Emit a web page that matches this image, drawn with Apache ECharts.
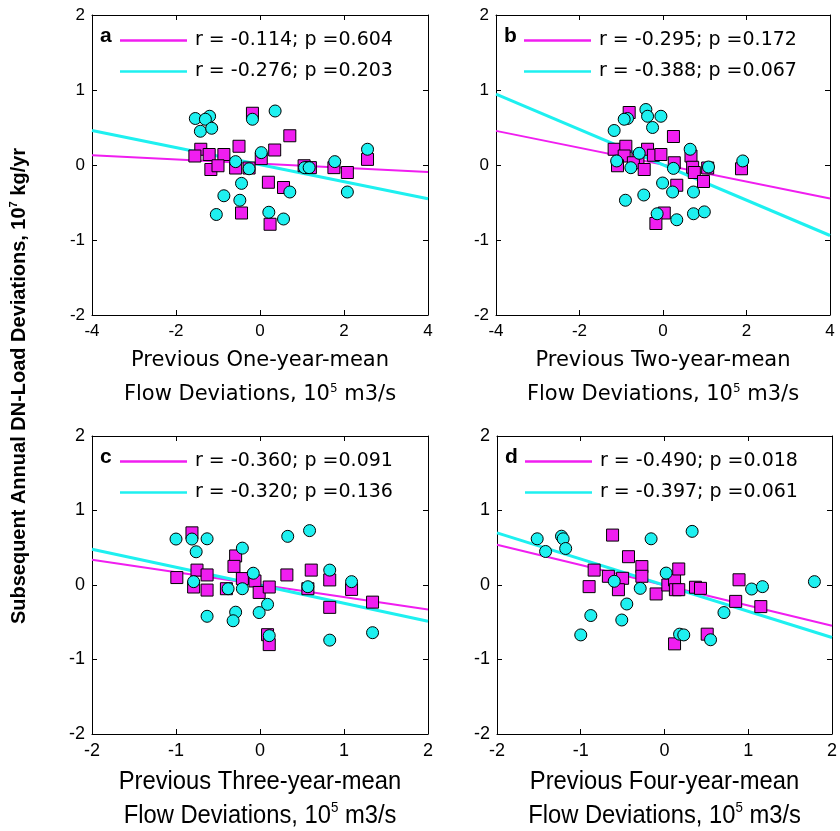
<!DOCTYPE html>
<html lang="en">
<head>
    <meta charset="UTF-8">
    <title>DN-load vs flow deviations</title>
    <script src="https://cdn.jsdelivr.net/npm/echarts@6/dist/echarts.min.js"></script>
    <style>
        *{ margin: 0; padding: 0; }
        body{ background: #fff; }
        #main{ width: 840px; height: 831px; }
    </style>
</head>
<body>
<div id="main"></div>
<script type="text/javascript">
    // axis ranges (tick labels come from min/max/interval)
    const xRangeTop = [-4, 4], xStepTop = 2;
    const xRangeBottom = [-2, 2], xStepBottom = 1;
    const yRange = [-2, 2], yStep = 1;

    // panel a: previous one-year-mean
    const aMagenta = [[-0.18,0.69],[0.71,0.39],[0.35,0.20],[-0.5,0.25],[-1.41,0.21],[-1.55,0.12],[-1.21,0.14],[-0.86,0.14],
        [-1.17,-0.06],[-1.0,-0.01],[-0.58,-0.04],[-0.26,-0.04],[0.03,0.085],[0.2,-0.23],[0.56,-0.30],[-0.44,-0.64],[0.24,-0.79],
        [1.05,-0.01],[1.2,-0.035],[1.76,-0.035],[2.08,-0.1],[2.56,0.075]];
    const aCyan = [[-1.54,0.62],[-1.2,0.65],[-1.3,0.61],[-1.42,0.45],[-1.15,0.49],[-0.18,0.61],[0.36,0.72],[0.03,0.165],
        [-0.58,0.045],[-0.26,-0.05],[-0.44,-0.245],[-0.86,-0.41],[-0.48,-0.47],[-1.04,-0.66],[0.21,-0.63],[0.56,-0.72],
        [0.71,-0.36],[1.06,-0.035],[1.17,-0.035],[1.78,0.045],[2.08,-0.36],[2.56,0.21]];
    const aFitMagenta = [[-4,0.13],[4,-0.094]];
    const aFitCyan = [[-4,0.46],[4,-0.45]];
    const aLegend = ['r = -0.114; p =0.604', 'r = -0.276; p =0.203'];

    // panel b: previous two-year-mean
    const bMagenta = [[-0.81,0.7],[0.25,0.38],[-1.17,0.21],[-0.89,0.25],[-0.93,0.12],[-0.37,0.21],[-0.23,0.13],[-0.05,0.14],
        [-0.6,0.08],[-1.09,-0.01],[-0.71,0.03],[-0.45,-0.06],[0.27,0.03],[0.67,0.12],[0.71,-0.03],[0.75,-0.1],[1.07,-0.04],
        [0.97,-0.22],[0.33,-0.27],[0.03,-0.64],[-0.17,-0.78],[1.88,-0.05]];
    const bCyan = [[-0.41,0.74],[-0.37,0.65],[-0.05,0.65],[-0.25,0.5],[-0.85,0.62],[-0.93,0.61],[-1.17,0.46],[0.65,0.21],
        [-0.57,0.156],[-1.11,0.054],[-0.77,-0.036],[0.25,-0.045],[1.09,-0.027],[1.91,0.054],[-0.01,-0.24],[0.23,-0.36],
        [0.73,-0.36],[-0.46,-0.40],[-0.9,-0.47],[-0.14,-0.65],[0.33,-0.73],[0.73,-0.65],[0.99,-0.625]];
    const bFitMagenta = [[-4,0.455],[4,-0.446]];
    const bFitCyan = [[-4,0.946],[4,-0.94]];
    const bLegend = ['r = -0.295; p =0.172', 'r = -0.388; p =0.067'];

    // panel c: previous three-year-mean
    const cMagenta = [[-0.81,0.7],[-0.99,0.1],[-0.75,0.2],[-0.63,0.135],[-0.79,-0.027],[-0.63,-0.068],[-0.29,0.39],[-0.31,0.25],
        [-0.4,-0.05],[-0.21,0.086],[-0.06,0.054],[-0.01,-0.1],[0.11,-0.027],[0.32,0.135],[0.61,0.2],[0.83,0.068],[0.57,-0.05],
        [1.09,-0.059],[0.83,-0.3],[1.34,-0.23],[0.09,-0.667],[0.11,-0.8]];
    const cCyan = [[-1.0,0.617],[-0.81,0.617],[-0.63,0.62],[-0.76,0.446],[-0.21,0.495],[0.33,0.653],[0.59,0.73],[-0.08,0.158],
        [0.83,0.2],[-0.79,0.045],[-0.38,-0.05],[-0.21,-0.05],[0.57,-0.023],[1.09,0.045],[0.09,-0.26],[-0.01,-0.37],
        [-0.29,-0.365],[-0.32,-0.48],[-0.63,-0.42],[0.11,-0.68],[0.83,-0.74],[1.34,-0.64]];
    const cFitMagenta = [[-2,0.338],[2,-0.33]];
    const cFitCyan = [[-2,0.48],[2,-0.486]];
    const cLegend = ['r = -0.360; p =0.091', 'r = -0.320; p =0.136'];

    // panel d: previous four-year-mean
    const dMagenta = [[-0.62,0.67],[-0.43,0.38],[-0.27,0.247],[-0.27,0.117],[-0.84,0.2],[-0.67,0.117],[-0.5,0.09],[-0.9,-0.022],
        [-0.55,-0.063],[-0.1,-0.12],[0.04,0],[0.12,0.067],[0.17,0.215],[0.13,-0.063],[0.17,-0.063],[0.37,-0.03],[0.43,-0.045],
        [0.89,0.07],[0.85,-0.22],[1.15,-0.29],[0.51,-0.66],[0.12,-0.79]];
    const dCyan = [[-1.52,0.62],[-1.42,0.45],[-1.23,0.655],[-1.21,0.62],[-1.18,0.49],[-0.16,0.62],[0.33,0.72],[0.02,0.16],
        [-0.6,0.05],[-0.29,-0.045],[-0.45,-0.255],[-0.88,-0.41],[-0.51,-0.47],[-1.0,-0.67],[0.18,-0.66],[0.23,-0.67],
        [0.55,-0.735],[0.71,-0.37],[1.04,-0.054],[1.17,-0.022],[1.79,0.045]];
    const dFitMagenta = [[-2,0.54],[2,-0.547]];
    const dFitCyan = [[-2,0.70],[2,-0.704]];
    const dLegend = ['r = -0.490; p =0.018', 'r = -0.397; p =0.061'];

    const panelLetters = ['a', 'b', 'c', 'd'];
    const xTitles = ['Previous One-year-mean', 'Previous Two-year-mean', 'Previous Three-year-mean', 'Previous Four-year-mean'];
    const yTitle = 'Subsequent Annual DN-Load Deviations, 10';

    const MAG = '#f01ef0';
    const CYA = '#1ef0f0';

    const panels = [
        {sq: aMagenta, ci: aCyan, fm: aFitMagenta, fc: aFitCyan, leg: aLegend, xr: xRangeTop, xs: xStepTop},
        {sq: bMagenta, ci: bCyan, fm: bFitMagenta, fc: bFitCyan, leg: bLegend, xr: xRangeTop, xs: xStepTop},
        {sq: cMagenta, ci: cCyan, fm: cFitMagenta, fc: cFitCyan, leg: cLegend, xr: xRangeBottom, xs: xStepBottom},
        {sq: dMagenta, ci: dCyan, fm: dFitMagenta, fc: dFitCyan, leg: dLegend, xr: xRangeBottom, xs: xStepBottom}
    ];

    // layout
    const grids = [
        {left: 92, top: 15, width: 336, height: 300},
        {left: 496, top: 15, width: 334, height: 300},
        {left: 92, top: 436, width: 336, height: 298},
        {left: 497, top: 436, width: 335, height: 298}
    ];

    let xAxis = [], yAxis = [], series = [], legend = [], graphic = [];

    panels.forEach((p, i) => {
        let g = grids[i];
        let tickStyle = {show: true, inside: true, length: 5, lineStyle: {color: '#000'}};
        let lineStyle = {show: true, onZero: false, lineStyle: {color: '#000', width: 1}};
        xAxis.push({
            type: 'value', gridIndex: i, position: 'bottom', min: p.xr[0], max: p.xr[1], interval: p.xs,
            axisLine: lineStyle, axisTick: tickStyle, splitLine: {show: false},
            axisLabel: {color: '#000', fontSize: i < 2 ? 17 : 18, fontFamily: 'Liberation Sans', margin: 8}
        });
        yAxis.push({
            type: 'value', gridIndex: i, position: 'left', min: yRange[0], max: yRange[1], interval: yStep,
            axisLine: lineStyle, axisTick: tickStyle, splitLine: {show: false},
            axisLabel: {color: '#000', fontSize: i < 2 ? 17 : 18, fontFamily: 'Liberation Sans', margin: 7}
        });
        series.push({
            name: p.leg[0], type: 'line', xAxisIndex: i, yAxisIndex: i, data: p.fm,
            symbol: 'none', silent: true, z: 2,
            lineStyle: {color: MAG, width: 2}, itemStyle: {color: MAG}
        });
        series.push({
            name: p.leg[1], type: 'line', xAxisIndex: i, yAxisIndex: i, data: p.fc,
            symbol: 'none', silent: true, z: 2,
            lineStyle: {color: CYA, width: 3}, itemStyle: {color: CYA}
        });
        series.push({
            type: 'scatter', xAxisIndex: i, yAxisIndex: i, data: p.sq, symbol: 'rect', symbolSize: 12, z: 3,
            itemStyle: {color: MAG, borderColor: '#000', borderWidth: 1, opacity: 1}
        });
        series.push({
            type: 'scatter', xAxisIndex: i, yAxisIndex: i, data: p.ci, symbol: 'circle', symbolSize: 12, z: 4,
            itemStyle: {color: CYA, borderColor: '#000', borderWidth: 1, opacity: 1}
        });
        legend.push({
            data: p.leg, orient: 'vertical', left: g.left + 28, top: g.top + 16, padding: 0,
            icon: 'rect', itemWidth: 67, itemHeight: 2.5, itemGap: 12, selectedMode: false,
            textStyle: {color: '#000', fontSize: 19, fontFamily: 'DejaVu Sans', padding: [0, 0, 0, 3]}
        });
        // panel letter
        graphic.push({
            type: 'text', x: g.left + 8, y: g.top + 21,
            style: {text: panelLetters[i], font: 'bold 21px Liberation Sans', fill: '#000', align: 'left', verticalAlign: 'middle'}
        });
        // x-axis title, two lines
        let cx = g.left + g.width / 2;
        let baseY = g.top + g.height;
        let titleFont = i < 2 ? 'DejaVu Sans' : 'Liberation Sans';
        let fs = i < 2 ? 21 : 25;
        let sx = i < 2 ? 1 : 0.95;
        graphic.push({
            type: 'text', x: cx, y: baseY + 46 + (i < 2 ? 0 : 2), scaleX: sx,
            style: {text: xTitles[i], fontFamily: titleFont, fontSize: fs, fill: '#000', align: 'center', verticalAlign: 'middle'}
        });
        graphic.push({
            type: 'text', x: cx, y: baseY + 80 + (i < 2 ? 0 : 2), scaleX: sx,
            style: {
                text: '{t|Flow Deviations, 10}{s|5}{t| m3/s}', align: 'center', verticalAlign: 'middle',
                rich: {
                    t: {fontFamily: titleFont, fontSize: fs, fill: '#000', lineHeight: fs + 4},
                    s: {fontFamily: titleFont, fontSize: Math.round(fs * 0.55), fill: '#000', verticalAlign: 'top', lineHeight: fs + 4}
                }
            }
        });
    });

    // secondary axes to close the box (ticks on top and right)
    panels.forEach((p, i) => {
        let tickStyle = {show: true, inside: true, length: 5, lineStyle: {color: '#000'}};
        let lineStyle = {show: true, onZero: false, lineStyle: {color: '#000', width: 1}};
        xAxis.push({
            type: 'value', gridIndex: i, position: 'top', min: p.xr[0], max: p.xr[1], interval: p.xs,
            axisLine: lineStyle, axisTick: tickStyle, axisLabel: {show: false}, splitLine: {show: false}
        });
        yAxis.push({
            type: 'value', gridIndex: i, position: 'right', min: yRange[0], max: yRange[1], interval: yStep,
            axisLine: lineStyle, axisTick: tickStyle, axisLabel: {show: false}, splitLine: {show: false}
        });
    });

    // shared y title
    graphic.push({
        type: 'text', x: 19, y: 386, rotation: Math.PI / 2,
        style: {
            text: '{t|' + yTitle + '}{s|7}{t| kg/yr}', align: 'center', verticalAlign: 'middle',
            rich: {
                t: {fontFamily: 'Liberation Sans', fontWeight: 'bold', fontSize: 20, fill: '#000', lineHeight: 22},
                s: {fontFamily: 'Liberation Sans', fontWeight: 'bold', fontSize: 11, fill: '#000', verticalAlign: 'top', lineHeight: 22}
            }
        }
    });

    let chart = echarts.init(document.getElementById('main'));
    chart.setOption({
        animation: false,
        backgroundColor: '#fff',
        grid: grids,
        xAxis,
        yAxis,
        legend,
        graphic,
        series
    });
</script>
</body>
</html>
